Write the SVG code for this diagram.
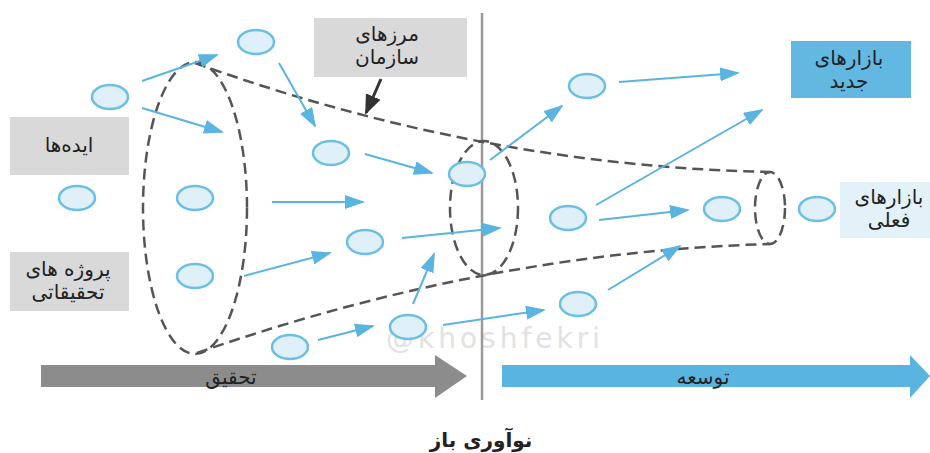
<svg xmlns="http://www.w3.org/2000/svg" width="930" height="453" viewBox="0 0 930 453">
<style>
.node ellipse{fill:#dff0f9;stroke:#6bbfe4;stroke-width:2.5}
.blue{stroke:#5ab4e0;stroke-width:2;fill:none;marker-end:url(#ah)}
.dash{stroke:#555;stroke-width:2.5;fill:none;stroke-dasharray:11 6}
.lbl{font-family:"DejaVu Sans","Noto Sans",sans-serif;font-size:20px;fill:#222;text-anchor:middle}
.gbox{fill:#d9d9d9}
</style>
<defs>
<marker id="ah" markerUnits="userSpaceOnUse" markerWidth="20" markerHeight="14" refX="18" refY="7" orient="auto">
<path d="M0,0 L20,7 L0,14 Z" fill="#5ab4e0"/>
</marker>
<marker id="dk" markerUnits="userSpaceOnUse" markerWidth="20" markerHeight="16" refX="18" refY="8" orient="auto">
<path d="M0,0 L20,8 L0,16 Z" fill="#333"/>
</marker>
</defs>
<rect width="930" height="453" fill="#fff"/>

<!-- bottom arrows -->
<g id="research-arrow">
<path d="M41,365 L435,365 L435,355 L467,376 L435,398 L435,387 L41,387 Z" fill="#8c8c8c"/>
<text class="lbl" x="231" y="384" font-size="22">تحقیق</text>
</g>
<g id="development-arrow">
<path d="M502,365 L910,365 L910,355 L930,376 L910,398 L910,387 L502,387 Z" fill="#5ab4e0"/>
<text class="lbl" x="703" y="384" font-size="22">توسعه</text>
</g>

<!-- watermark -->
<text x="495" y="348" font-family="'DejaVu Sans',sans-serif" font-size="28" fill="#e2e2e2" text-anchor="middle" letter-spacing="4">@khoshfekri</text>

<!-- boundary line -->
<line x1="482" y1="13" x2="482" y2="400" stroke="#9a9a9a" stroke-width="2.5"/>

<!-- funnel -->
<g id="funnel">
<ellipse class="dash" cx="195" cy="208" rx="52" ry="146"/>
<ellipse class="dash" cx="484" cy="208" rx="34" ry="67"/>
<ellipse class="dash" cx="770" cy="208" rx="15" ry="36"/>
<path class="dash" d="M195,63 Q481,166 770,172"/>
<path class="dash" d="M197,353 Q486,252 770,244"/>
</g>

<!-- connectors -->
<g id="connectors">
<line class="blue" x1="142" y1="81" x2="217" y2="55"/>
<line class="blue" x1="142" y1="108" x2="222" y2="132"/>
<line class="blue" x1="279" y1="63" x2="315" y2="126"/>
<line class="blue" x1="272" y1="202" x2="363" y2="202"/>
<line class="blue" x1="365" y1="154" x2="432" y2="173"/>
<line class="blue" x1="490" y1="160" x2="562" y2="106"/>
<line class="blue" x1="619" y1="82" x2="738" y2="73"/>
<line class="blue" x1="596" y1="205" x2="762" y2="110"/>
<line class="blue" x1="599" y1="220" x2="688" y2="210"/>
<line class="blue" x1="244" y1="276" x2="330" y2="253"/>
<line class="blue" x1="402" y1="238" x2="500" y2="228"/>
<line class="blue" x1="318" y1="340" x2="373" y2="326"/>
<line class="blue" x1="413" y1="304" x2="434" y2="254"/>
<line class="blue" x1="443" y1="325" x2="544" y2="310"/>
<line class="blue" x1="608" y1="290" x2="680" y2="246"/>
<line x1="381" y1="79" x2="366" y2="113" stroke="#333" stroke-width="3" marker-end="url(#dk)"/>
</g>

<!-- idea circles -->
<g id="n1" class="node"><ellipse cx="110" cy="97" rx="18" ry="12"/></g>
<g id="n2" class="node"><ellipse cx="256" cy="42" rx="18" ry="12"/></g>
<g id="n3" class="node"><ellipse cx="77" cy="198" rx="18" ry="12"/></g>
<g id="n4" class="node"><ellipse cx="195" cy="198" rx="18" ry="12"/></g>
<g id="n5" class="node"><ellipse cx="195" cy="276" rx="18" ry="12"/></g>
<g id="n6" class="node"><ellipse cx="331" cy="153" rx="18" ry="12"/></g>
<g id="n7" class="node"><ellipse cx="467" cy="174" rx="18" ry="12"/></g>
<g id="n8" class="node"><ellipse cx="365" cy="242" rx="18" ry="12"/></g>
<g id="n9" class="node"><ellipse cx="587" cy="86" rx="18" ry="12"/></g>
<g id="n10" class="node"><ellipse cx="568" cy="218" rx="18" ry="12"/></g>
<g id="n11" class="node"><ellipse cx="722" cy="209" rx="18" ry="12"/></g>
<g id="n12" class="node"><ellipse cx="817" cy="209" rx="18" ry="12"/></g>
<g id="n13" class="node"><ellipse cx="290" cy="347" rx="18" ry="12"/></g>
<g id="n14" class="node"><ellipse cx="408" cy="327" rx="18" ry="12"/></g>
<g id="n15" class="node"><ellipse cx="578" cy="304" rx="18" ry="12"/></g>

<!-- labels -->
<g id="ideas">
<rect class="gbox" x="10" y="117" width="119" height="58"/>
<text class="lbl" x="69" y="152" font-size="23">ایده‌ها</text>
</g>
<g id="research-projects">
<rect class="gbox" x="10" y="252" width="119" height="59"/>
<text class="lbl" x="68" y="276">پروژه های</text>
<text class="lbl" x="68" y="299">تحقیقاتی</text>
</g>
<g id="org-boundary">
<rect class="gbox" x="314" y="18" width="153" height="59"/>
<text class="lbl" x="387" y="41">مرزهای</text>
<text class="lbl" x="387" y="64">سازمان</text>
</g>
<g id="new-markets">
<rect x="791" y="41" width="120" height="57" fill="#63b8e2"/>
<text class="lbl" x="849" y="65">بازارهای</text>
<text class="lbl" x="849" y="88">جدید</text>
</g>
<g id="current-markets">
<rect x="840" y="182" width="90" height="56" fill="#e3f1f9"/>
<text class="lbl" x="889" y="204">بازارهای</text>
<text class="lbl" x="889" y="227">فعلی</text>
</g>
<g id="caption">
<text class="lbl" x="481" y="447" font-weight="bold" font-size="22">نوآوری باز</text>
</g>
</svg>
